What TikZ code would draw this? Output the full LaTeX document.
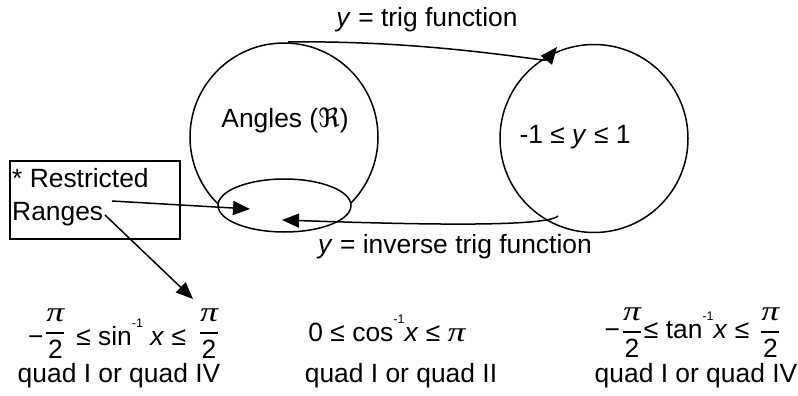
\documentclass[tikz,border=0pt]{standalone}
\usepackage{fontspec}
\setmainfont{Liberation Sans}
\newfontfamily\dvsans{DejaVu Sans}
\newfontfamily\lserif{Liberation Serif}
\usetikzlibrary{shapes.geometric,arrows.meta}
\newcommand\pii{{\lserif\itshape\scalebox{1.35}[1.05]{π}}}
\newcommand\frpi[1]{\raisebox{#1}{\setlength\arrayrulewidth{1.2pt}\begin{tabular}[b]{@{}c@{}}\pii\\\hline 2\end{tabular}}}
\newcommand\supm{\raisebox{18pt}{\fontsize{12.5}{12.5}\selectfont -1}}
\tikzset{
  lbl/.style={font=\fontsize{26.4}{35}\selectfont, inner sep=0pt, anchor=base},
  ring/.style={circle, draw, line width=1.5pt, minimum size=188pt, inner sep=0pt},
  arr/.style={line width=1.5pt, -{Triangle[length=17pt,width=14pt]}},
}
\begin{document}
\begin{tikzpicture}[x=1pt,y=-1pt]
\useasboundingbox (0,0) rectangle (798,396);
% circles
\node[ring] (L) at (284,137) {};
\node[ring] (R) at (594,138.5) {};
\node[ellipse, draw, fill=white, line width=1.5pt, minimum width=133pt, minimum height=53pt, inner sep=0pt] (E) at (284.5,205.5) {};
% box
\node[draw, line width=1.5pt, minimum width=170pt, minimum height=78pt, inner sep=0pt] (B) at (95,200) {};
\node[lbl, anchor=base west] (bt1) at (12,187) {* Restricted};
\node[lbl, anchor=base west] (bt2) at (12,220) {Ranges};
% texts
\node[lbl] (tA) at (285,128) {Angles ({\dvsans ℜ})};
\node[lbl] (tR) at (575,143) {-1 ≤ \textit{y} ≤ 1};
\node[lbl] (tT) at (427,27) {\textit{y} = trig function};
\node[lbl] (tI) at (455,253) {\textit{y} = inverse trig function};
% formulas
\node[lbl] (f1) at (123,345) {−\hspace{3pt}\frpi{-13pt}\hspace{12pt}≤ sin\supm{} \textit{x} ≤\hspace{14pt}\frpi{-13pt}};
\node[lbl] (f2) at (387,341) {0 ≤ cos\supm\textit{x} ≤ \pii};
\node[lbl] (f3) at (692,338) {−\hspace{3pt}\frpi{-19pt}\hspace{3pt}≤ tan\supm\textit{x} ≤\hspace{12pt}\frpi{-19pt}};
\node[lbl] (q1) at (119,382) {quad I or quad IV};
\node[lbl] (q2) at (401,382) {quad I or quad II};
\node[lbl] (q3) at (696,382) {quad I or quad IV};
% connectors
\coordinate (a1) at (288,42);
\coordinate (a2) at (557,47);
\draw[arr] (a1) .. controls (430,40) and (545,62) .. (a2);
\coordinate (b1) at (558,216);
\coordinate (b2) at (282,220);
\draw[arr] (b1) .. controls (545,228) and (400,224) .. (b2);
\coordinate (c1) at (112,201);
\coordinate (c2) at (250,209);
\draw[arr] (c1) -- (c2);
\coordinate (d1) at (105,215);
\coordinate (d2) at (193,299);
\draw[arr] (d1) -- (d2);
\end{tikzpicture}
\end{document}
